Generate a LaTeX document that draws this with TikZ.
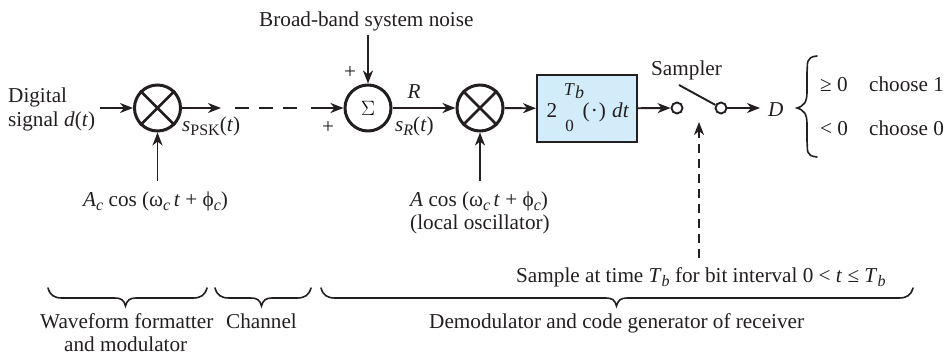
\documentclass[tikz,border=0pt]{standalone}
\usepackage{fontspec}
\setmainfont{Liberation Serif}
\usetikzlibrary{arrows.meta}
\newcommand{\iv}[1]{\textit{#1}}
\newcommand{\subs}[1]{\raisebox{-4.5pt}{\fontsize{16}{18}\selectfont #1}}
\tikzset{
  x=1pt,y=-1pt,
  lab/.style={inner sep=0pt,anchor=base west,font=\fontsize{21.2}{24}\selectfont,text=ink},
  labc/.style={inner sep=0pt,anchor=base,font=\fontsize{21.2}{24}\selectfont,text=ink},
  sig/.style={line width=1.9pt,draw=ink,-{Stealth[length=13pt,width=10pt,inset=4pt]}},
  plainline/.style={line width=1.9pt,draw=ink},
  dashline/.style={line width=1.9pt,draw=ink,dash pattern=on 14pt off 10pt},
  dashsamp/.style={line width=1.9pt,draw=ink,dash pattern=on 9pt off 6pt,-{Stealth[length=13pt,width=10pt,inset=4pt]}},
  junction/.style={circle,draw=ink,line width=3pt,minimum size=46pt,inner sep=0pt},
  contact/.style={circle,draw=ink,line width=1.9pt,minimum size=11pt,inner sep=0pt,fill=white},
  intbox/.style={rectangle,draw=ink,line width=2pt,fill=boxfill,minimum width=100pt,minimum height=67pt,inner sep=0pt},
  bracel/.style={line width=1.6pt,draw=ink,line cap=round},
}
\definecolor{ink}{HTML}{231F20}
\definecolor{boxfill}{HTML}{D2ECF9}
\begin{document}
\begin{tikzpicture}
\useasboundingbox (0,0) rectangle (949,356);
% nodes
\node[junction] (m1) at (157.5,108) {};
\node[junction] (sum) at (368,108) {\fontsize{21}{22}\selectfont $\Sigma$};
\node[junction] (m2) at (480,108) {};
\draw[line width=2.8pt,draw=ink] (m1.45) -- (m1.225) (m1.135) -- (m1.315);
\draw[line width=2.8pt,draw=ink] (m2.45) -- (m2.225) (m2.135) -- (m2.315);
\node[intbox] (int) at (587,108.5) {};
\node[contact] (c1) at (677,108) {};
\node[contact] (c2) at (721,108) {};
% text
\node[lab] (dig) at (8,102) {Digital};
\node[lab] (sigd) at (8,126) {signal \iv{d}(\iv{t})};
\node[lab] (spsk) at (182,131) {\iv{s}\subs{PSK}(\iv{t})};
\node[lab] (noise) at (259,26) {Broad-band system noise};
\node[labc] (plus1) at (350,78) {+};
\node[labc] (plus2) at (328,133) {+};
\node[labc] (rr) at (414,98) {\iv{R}};
\node[lab] (sr) at (395,131) {\iv{s}\subs{\iv{R}}(\iv{t})};
\node[lab] (ac) at (83,206) {\iv{A}\subs{\iv{c}} cos (ω\subs{\iv{c}}\,\iv{t} + ϕ\subs{\iv{c}})};
\node[lab] (ao) at (410,206) {\iv{A} cos (ω\subs{\iv{c}}\,\iv{t} + ϕ\subs{\iv{c}})};
\node[lab] (lo) at (410,229) {(local oscillator)};
\node[labc] (two) at (552,117) {2};
\node[labc,font=\fontsize{18}{20}\selectfont] (tb) at (574,95) {\iv{T}\raisebox{-3pt}{\iv{b}}};
\node[labc,font=\fontsize{17}{18}\selectfont] (zero) at (569.5,131) {0};
\node[lab] (dot) at (582.5,117) {(\kern1pt·\kern1pt)};
\node[lab] (dt) at (612,117) {\iv{dt}};
\node[lab] (samp) at (651,75) {Sampler};
\node[lab] (dd) at (768,116) {\iv{D}};
\node[lab] (ge) at (820,91) {≥ 0};
\node[lab] (choose1) at (869,91) {choose 1};
\node[lab] (lt) at (820,135) {< 0};
\node[lab] (choose0) at (869,135) {choose 0};
\node[lab] (st) at (516,282) {Sample at time \iv{T}\subs{\iv{b}} for bit interval 0 < \iv{t} ≤ \iv{T}\subs{\iv{b}}};
\node[lab] (wf) at (40,328) {Waveform formatter};
\node[lab] (am) at (64,351) {and modulator};
\node[lab] (ch) at (226,328) {Channel};
\node[lab] (dm) at (429,328) {Demodulator and code generator of receiver};
% free ends
\coordinate (a1) at (100,108);
\coordinate (a2) at (221,108);
\coordinate (a3) at (235,108);
\coordinate (a4) at (297,108);
\coordinate (a5) at (311,108);
\coordinate (n1) at (368,35);
\coordinate (o1) at (157.5,181);
\coordinate (o2) at (480,181);
\coordinate (sw) at (679,85);
\coordinate (s1) at (699,258);
\coordinate (s2) at (699,122);
\coordinate (dend) at (760,108);
% connectors
\draw[sig] (a1) -- (m1);
\draw[sig] (m1) -- (a2);
\draw[dashline] (a3) -- (a4);
\draw[sig] (a5) -- (sum);
\draw[sig] (n1) -- (sum);
\draw[sig] (o1) -- (m1);
\draw[sig] (sum) -- (m2);
\draw[sig] (o2) -- (m2);
\draw[sig] (m2) -- (int);
\draw[sig] (int) -- (c1);
\draw[plainline] (sw) -- (c2);
\draw[sig] (c2) -- (dend);
\draw[dashsamp] (s1) -- (s2);
% right brace
\draw[bracel] (817,56) .. controls (805,57) and (808,64) .. (807,72) -- (807,92) .. controls (807,102) and (804,106) .. (797,108) .. controls (804,110) and (807,114) .. (807,124) -- (807,141) .. controls (808,150) and (805,156) .. (817,157);
% under braces
\draw[bracel] (48,288) .. controls (50,295) and (54,298) .. (62,298) -- (115,298) .. controls (121,298) and (124,300) .. (125.5,306) .. controls (127,300) and (130,298) .. (136,298) -- (193,298) .. controls (201,298) and (205,295) .. (207,288);
\draw[bracel] (215,288) .. controls (217,295) and (221,298) .. (229,298) -- (251,298) .. controls (257,298) and (260,300) .. (261.5,306) .. controls (263,300) and (266,298) .. (272,298) -- (297,298) .. controls (305,298) and (309,295) .. (311,288);
\draw[bracel] (321,288) .. controls (323,295) and (327,298) .. (335,298) -- (606,298) .. controls (612,298) and (615,300) .. (616.5,306) .. controls (618,300) and (621,298) .. (627,298) -- (899,298) .. controls (907,298) and (911,295) .. (913,288);
\end{tikzpicture}
\end{document}
